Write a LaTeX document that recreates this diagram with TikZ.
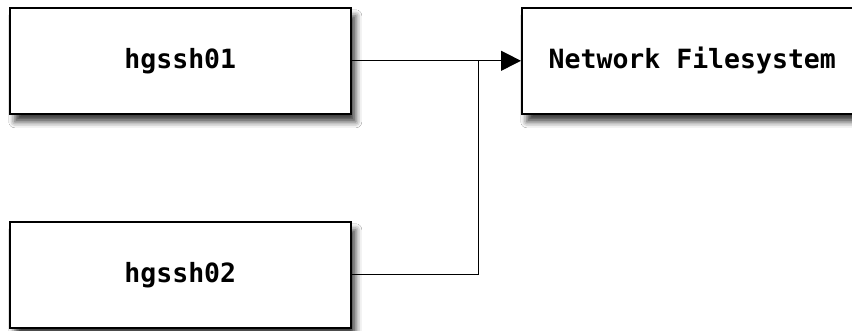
\documentclass[tikz,border=0pt]{standalone}
\usepackage{fontspec}
\setmonofont{DejaVu Sans Mono}
\usetikzlibrary{arrows.meta,shadows.blur}
\tikzset{
  blockbox/.style={draw=black, line width=1.6pt, fill=white, rectangle,
    minimum width=341pt, minimum height=106pt, inner sep=0pt, anchor=north west,
    blur shadow={shadow xshift=5pt, shadow yshift=-8pt, shadow blur radius=6pt, shadow opacity=75},
    font=\ttfamily\bfseries\fontsize{26.5}{26.5}\selectfont},
  conn/.style={draw=black, line width=1pt},
}
\begin{document}
\begin{tikzpicture}[x=1pt,y=-1pt]
\useasboundingbox (0,0) rectangle (852,331);
\fill[white] (0,0) rectangle (852,331);
\node[blockbox] (a) at (9,7) {hgssh01};
\node[blockbox] (b) at (9,221) {hgssh02};
\node[blockbox] (c) at (521,7) {Network Filesystem};
\coordinate (j) at (478,60);
\draw[conn, -{Triangle[length=20pt,width=20pt]}] (a.east) -- (c.west);
\draw[conn] (b.east) -| (j);
\end{tikzpicture}
\end{document}
